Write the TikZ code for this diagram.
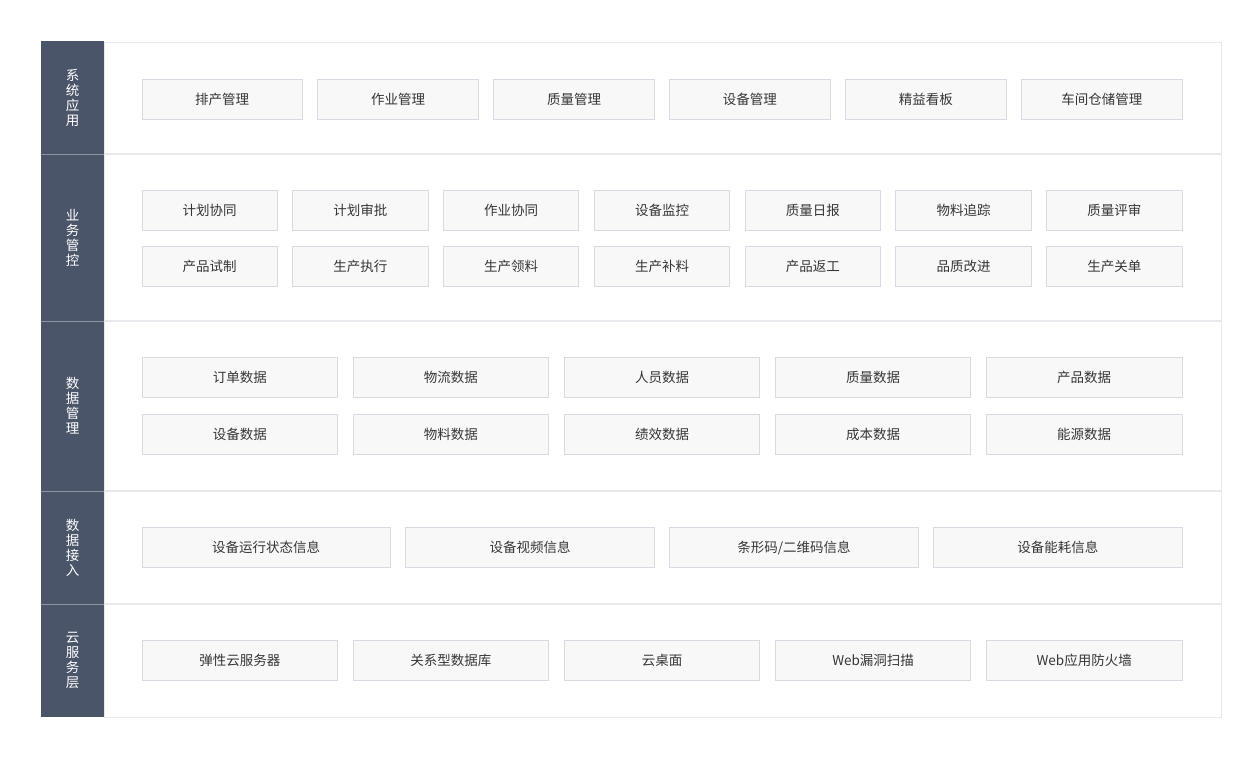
\documentclass[tikz,border=0pt]{standalone}
\usepackage{fontspec}
\setmainfont{Noto Sans CJK SC}
\definecolor{darkcol}{HTML}{4B5569}
\definecolor{sepdark}{HTML}{8C95A6}
\definecolor{frameline}{HTML}{E8E9ED}
\definecolor{boxfill}{HTML}{F8F8F9}
\definecolor{boxline}{HTML}{D7DAE1}
\definecolor{txt}{HTML}{363636}
\tikzset{
  itembox/.style={draw=boxline, fill=boxfill, line width=1pt, minimum height=40pt, inner sep=0pt,
    text=txt, font=\fontsize{13.5}{16}\selectfont},
  sidelabel/.style={text=white, align=center, inner sep=0pt, font=\fontsize{13.5}{15}\selectfont},
}
\begin{document}
\begin{tikzpicture}[x=1pt,y=-1pt]
\useasboundingbox (0,0) rectangle (1260,758);
\fill[white] (0,0) rectangle (1260,758);
% frame
\draw[frameline, line width=1pt] (104,42) rectangle (1221,717);
\foreach \yy in {154,321,491,604} \draw[frameline, line width=1.2pt] (104,\yy) -- (1221,\yy);
% dark column
\fill[darkcol] (41,41) rectangle (104,717);
\foreach \yy in {154,321,491,604} \draw[sepdark, line width=1pt] (41,\yy) -- (104,\yy);
% side labels
\node[sidelabel] (L1) at (72.5,98) {系\\统\\应\\用};
\node[sidelabel] (L2) at (72.5,237.5) {业\\务\\管\\控};
\node[sidelabel] (L3) at (72.5,406) {数\\据\\管\\理};
\node[sidelabel] (L4) at (72.5,547.5) {数\\据\\接\\入};
\node[sidelabel] (L5) at (72.5,660.5) {云\\服\\务\\层};
% row 1 : 6 boxes
\pgfmathsetmacro{\g}{15.5}
\pgfmathsetmacro{\wA}{(1040-5*\g)/6}
\foreach \t [count=\i from 0] in {排产管理,作业管理,质量管理,设备管理,精益看板,车间仓储管理}
  \node[itembox, minimum width=\wA pt] (a\i) at ({142+\wA/2+\i*(\wA+\g)},99) {\t};
% row 2 : 7 boxes x 2
\pgfmathsetmacro{\wB}{(1040-6*\g)/7}
\foreach \t [count=\i from 0] in {计划协同,计划审批,作业协同,设备监控,质量日报,物料追踪,质量评审}
  \node[itembox, minimum width=\wB pt] (b\i) at ({142+\wB/2+\i*(\wB+\g)},210) {\t};
\foreach \t [count=\i from 0] in {产品试制,生产执行,生产领料,生产补料,产品返工,品质改进,生产关单}
  \node[itembox, minimum width=\wB pt] (c\i) at ({142+\wB/2+\i*(\wB+\g)},266) {\t};
% row 3 : 5 boxes x 2
\pgfmathsetmacro{\wC}{(1040-4*\g)/5}
\foreach \t [count=\i from 0] in {订单数据,物流数据,人员数据,质量数据,产品数据}
  \node[itembox, minimum width=\wC pt] (d\i) at ({142+\wC/2+\i*(\wC+\g)},377.5) {\t};
\foreach \t [count=\i from 0] in {设备数据,物料数据,绩效数据,成本数据,能源数据}
  \node[itembox, minimum width=\wC pt] (e\i) at ({142+\wC/2+\i*(\wC+\g)},434.5) {\t};
% row 4 : 4 boxes
\pgfmathsetmacro{\wD}{(1040-3*\g)/4}
\foreach \t [count=\i from 0] in {设备运行状态信息,设备视频信息,条形码/二维码信息,设备能耗信息}
  \node[itembox, minimum width=\wD pt] (f\i) at ({142+\wD/2+\i*(\wD+\g)},547.5) {\t};
% row 5 : 5 boxes
\foreach \t [count=\i from 0] in {弹性云服务器,关系型数据库,云桌面,Web漏洞扫描,Web应用防火墙}
  \node[itembox, minimum width=\wC pt] (h\i) at ({142+\wC/2+\i*(\wC+\g)},660.5) {\t};
\end{tikzpicture}
\end{document}
